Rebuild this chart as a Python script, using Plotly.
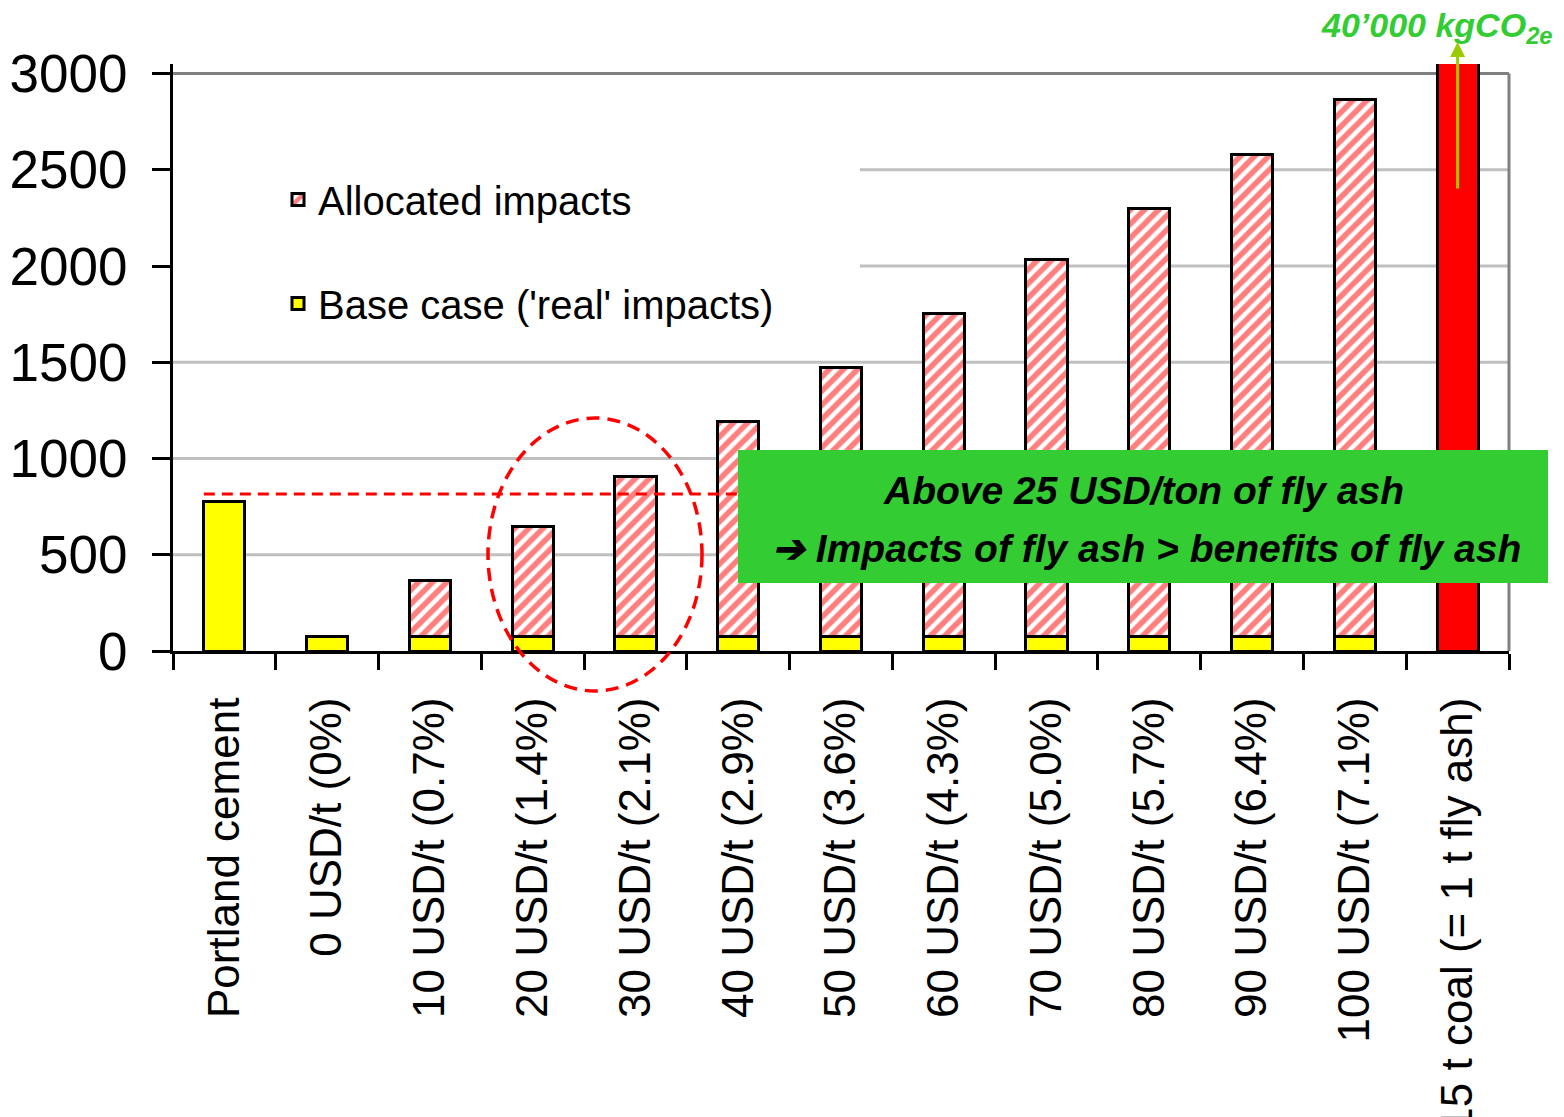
import plotly.graph_objects as go

categories = ["Portland cement", "0 USD/t (0%)", "10 USD/t (0.7%)", "20 USD/t (1.4%)",
              "30 USD/t (2.1%)", "40 USD/t (2.9%)", "50 USD/t (3.6%)", "60 USD/t (4.3%)",
              "70 USD/t (5.0%)", "80 USD/t (5.7%)", "90 USD/t (6.4%)", "100 USD/t (7.1%)",
              "15 t coal (= 1 t fly ash)"]
base_case = [775, 75, 75, 75, 75, 75, 75, 75, 75, 75, 75, 75, None]
allocated = [None, None, 289, 570, 830, 1116, 1397, 1677, 1958, 2223, 2504, 2790, None]
coal = [None] * 12 + [40000]
threshold = 816
y_ticks = [0, 500, 1000, 1500, 2000, 2500, 3000]

FONT = "Liberation Sans, Arial, sans-serif"
GREEN = "#33CC33"

fig = go.Figure()
fig.add_trace(go.Bar(
    x=categories, y=base_case, name="Base case ('real' impacts)", width=0.4,
    marker=dict(color="#FFFF00", line=dict(color="black", width=3)),
    legendrank=2, legendgroup="b"))
fig.add_trace(go.Bar(
    x=categories, y=allocated, name="Allocated impacts", width=0.4,
    marker=dict(color="white", line=dict(color="black", width=3),
                pattern=dict(shape="/", fgcolor="#FF0000", bgcolor="white",
                             size=10, solidity=0.55)),
    legendrank=1, legendgroup="a"))
fig.add_trace(go.Bar(
    x=categories, y=coal, name="coal", width=0.4, showlegend=False,
    marker=dict(color="#FF0000", line=dict(color="black", width=3))))

OFF = 8  # page offset of the figure inside the html body
W, H = 1564 - OFF, 1117 - OFF
# plot area in page pixels: x 173..1509, y 64..651
L = 173 - OFF
T = 64 - OFF
B = H - (651 - OFF)
R = W - (1509 - OFF)
PW = 1509 - 173
PH = 651 - 64


def px(xp):
    return (xp - 173) / PW


def py(yp):
    return (651 - yp) / PH


shapes = []
# gridlines (2000 and 2500 hidden behind the legend area)
for v in y_ticks[1:-1]:
    x0 = px(860) if v >= 2000 else 0
    shapes.append(dict(type="line", xref="paper", yref="y", x0=x0, x1=1, y0=v, y1=v,
                       line=dict(color="#C0C0C0", width=3), layer="below"))
# frame top/right
shapes.append(dict(type="line", xref="paper", yref="y", x0=0, x1=1, y0=3000, y1=3000,
                   line=dict(color="#808080", width=3), layer="below"))
shapes.append(dict(type="line", xref="paper", yref="y", x0=1, x1=1, y0=0, y1=3000,
                   line=dict(color="#808080", width=3), layer="below"))
# threshold dashed line
shapes.append(dict(type="line", xref="x", yref="y", x0=-0.2, x1=5.5, y0=threshold, y1=threshold,
                   line=dict(color="#FF0000", width=3, dash="11px,7px"), layer="above"))
# green box
shapes.append(dict(type="rect", xref="paper", yref="paper", x0=px(738), x1=px(1548),
                   y0=py(583), y1=py(450), fillcolor=GREEN, line=dict(width=0), layer="above"))
# dashed ellipse
shapes.append(dict(type="circle", xref="paper", yref="paper", x0=px(488), x1=px(702),
                   y0=py(691), y1=py(418),
                   line=dict(color="#FF0000", width=3.5, dash="13px,8px"), layer="above"))

annotations = [
    dict(xref="paper", yref="paper", x=px(1143), y=py(490), xanchor="center", yanchor="middle",
         showarrow=False, text="<b><i>Above 25 USD/ton of fly ash</i></b>",
         font=dict(family=FONT, size=39, color="black")),
    dict(xref="paper", yref="paper", x=px(1146), y=py(548), xanchor="center", yanchor="middle",
         showarrow=False, text="<b><i>➔ Impacts of fly ash &gt; benefits of fly ash</i></b>",
         font=dict(family=FONT, size=39, color="black")),
    dict(xref="paper", yref="paper", x=px(1555), y=py(28), xanchor="right", yanchor="middle",
         showarrow=False, text="<b><i>40’000 kgCO<sub>2e</sub></i></b>",
         font=dict(family=FONT, size=34, color=GREEN)),
    dict(xref="x", yref="paper", x=categories[-1], y=py(42), ax=0, ay=148, text="",
         showarrow=True, arrowhead=2, arrowsize=1, arrowwidth=3, arrowcolor="#99CC00"),
]

fig.update_layout(
    width=W, height=H, barmode="stack",
    margin=dict(l=L, r=R, t=T, b=B, autoexpand=False),
    plot_bgcolor="white", paper_bgcolor="white",
    font=dict(family=FONT, color="black"),
    shapes=shapes, annotations=annotations,
    legend=dict(x=px(278), y=py(167), xanchor="left", yanchor="top",
                bgcolor="rgba(255,255,255,0)", font=dict(family=FONT, size=40),
                traceorder="grouped", tracegroupgap=49, itemwidth=30),
    xaxis=dict(type="category", tickson="boundaries", ticks="outside", ticklen=16,
               tickwidth=3, tickcolor="black", showline=True, linewidth=3,
               linecolor="black", tickangle=-90, tickfont=dict(family=FONT, size=44),
               ticklabelstandoff=26, showgrid=False, automargin=False),
    yaxis=dict(range=[0, 3050], tickvals=y_ticks, ticks="outside", ticklen=18,
               tickwidth=3, tickcolor="black", showline=True, linewidth=3,
               linecolor="black", showgrid=False,
               tickfont=dict(family=FONT, size=53), ticklabelstandoff=14, zeroline=False,
               automargin=False),
)

fig.write_html("out.html")
